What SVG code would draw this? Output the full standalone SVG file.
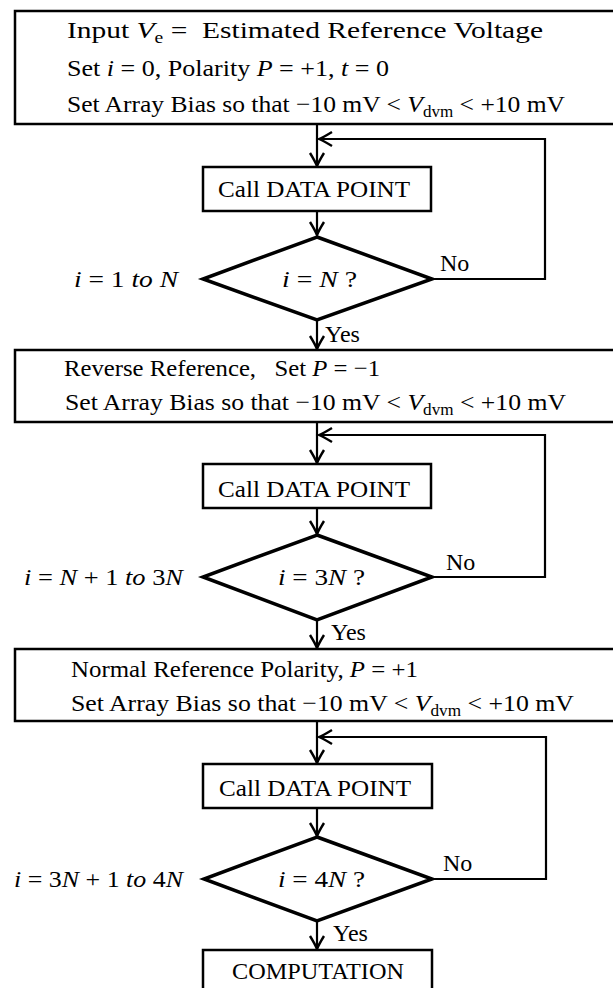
<svg xmlns="http://www.w3.org/2000/svg" width="613" height="988" viewBox="0 0 613 988">
<defs>
<style>
text{font-family:"Liberation Serif","Times New Roman",serif;font-size:24px;fill:#000}
.it{font-style:italic}
.sub{font-size:16px}
.box{fill:#fff;stroke:#000;stroke-width:2.5}
.dia{fill:#fff;stroke:#000;stroke-width:3.5;stroke-linejoin:miter}
.ln{fill:none;stroke:#000;stroke-width:2.2}
</style>
<marker id="ah" markerUnits="userSpaceOnUse" markerWidth="16" markerHeight="16" viewBox="-13 -8 15 16" refX="0" refY="0" orient="auto" overflow="visible">
<path d="M -13 -7 Q -4 -1.5 0 0 Q -4 1.5 -13 7" fill="none" stroke="#000" stroke-width="2.4"/>
</marker>
</defs>
<rect width="613" height="988" fill="#fff"/>

<g id="connectors">
<line class="ln" x1="317" y1="124" x2="317" y2="166" marker-end="url(#ah)"/>
<polyline class="ln" points="432,279 545,279 545,139 319,139" marker-end="url(#ah)"/>
<line class="ln" x1="317" y1="211" x2="317" y2="235" marker-end="url(#ah)"/>
<line class="ln" x1="317" y1="321" x2="317" y2="349" marker-end="url(#ah)"/>
<line class="ln" x1="317" y1="422" x2="317" y2="463" marker-end="url(#ah)"/>
<polyline class="ln" points="432,577 545,577 545,435 319,435" marker-end="url(#ah)"/>
<line class="ln" x1="317" y1="508" x2="317" y2="534" marker-end="url(#ah)"/>
<line class="ln" x1="317" y1="620" x2="317" y2="648" marker-end="url(#ah)"/>
<line class="ln" x1="317" y1="721" x2="317" y2="763" marker-end="url(#ah)"/>
<polyline class="ln" points="432,879 546,879 546,737 319,737" marker-end="url(#ah)"/>
<line class="ln" x1="317" y1="808" x2="317" y2="836" marker-end="url(#ah)"/>
<line class="ln" x1="317" y1="921" x2="317" y2="949" marker-end="url(#ah)"/>
</g>

<g id="init">
<rect class="box" x="15" y="11" width="620" height="113"/>
<text x="67" y="38" textLength="476" lengthAdjust="spacingAndGlyphs">Input <tspan class="it">V</tspan><tspan class="sub" dy="5">e</tspan><tspan dy="-5"> =&#160; Estimated Reference Voltage</tspan></text>
<text x="67" y="76" textLength="322" lengthAdjust="spacingAndGlyphs">Set <tspan class="it">i</tspan> = 0, Polarity <tspan class="it">P</tspan> = +1, <tspan class="it">t</tspan> = 0</text>
<text x="67" y="112" textLength="498" lengthAdjust="spacingAndGlyphs">Set Array Bias so that −10 mV &lt; <tspan class="it">V</tspan><tspan class="sub" dy="5">dvm</tspan><tspan dy="-5"> &lt; +10 mV</tspan></text>
</g>

<g id="call1">
<rect class="box" x="203" y="167" width="228" height="44"/>
<text x="218" y="197" textLength="192" lengthAdjust="spacingAndGlyphs">Call DATA POINT</text>
</g>

<g id="check1">
<polygon class="dia" points="317,237 432,279 317,320 203,279"/>
<text x="282" y="287" textLength="75" lengthAdjust="spacingAndGlyphs"><tspan class="it">i</tspan> = <tspan class="it">N</tspan> ?</text>
<text x="74" y="287" textLength="104" lengthAdjust="spacingAndGlyphs"><tspan class="it">i</tspan> = 1 <tspan class="it">to N</tspan></text>
<text x="440" y="271">No</text>
<text x="325" y="342">Yes</text>
</g>

<g id="reverse">
<rect class="box" x="15" y="350" width="620" height="72"/>
<text x="64" y="376" textLength="316" lengthAdjust="spacingAndGlyphs">Reverse Reference,&#160;&#160; Set <tspan class="it">P</tspan> = −1</text>
<text x="65" y="410" textLength="501" lengthAdjust="spacingAndGlyphs">Set Array Bias so that −10 mV &lt; <tspan class="it">V</tspan><tspan class="sub" dy="5">dvm</tspan><tspan dy="-5"> &lt; +10 mV</tspan></text>
</g>

<g id="call2">
<rect class="box" x="203" y="464" width="228" height="44"/>
<text x="218" y="497" textLength="192" lengthAdjust="spacingAndGlyphs">Call DATA POINT</text>
</g>

<g id="check2">
<polygon class="dia" points="317,535 432,577 317,620 203,577"/>
<text x="278" y="585" textLength="87" lengthAdjust="spacingAndGlyphs"><tspan class="it">i</tspan> = 3<tspan class="it">N</tspan> ?</text>
<text x="24" y="585" textLength="159" lengthAdjust="spacingAndGlyphs"><tspan class="it">i</tspan> = <tspan class="it">N</tspan> + 1 <tspan class="it">to</tspan> 3<tspan class="it">N</tspan></text>
<text x="446" y="570">No</text>
<text x="331" y="640">Yes</text>
</g>

<g id="normal">
<rect class="box" x="15" y="649" width="620" height="72"/>
<text x="71" y="677" textLength="347" lengthAdjust="spacingAndGlyphs">Normal Reference Polarity, <tspan class="it">P</tspan> = +1</text>
<text x="71" y="711" textLength="503" lengthAdjust="spacingAndGlyphs">Set Array Bias so that −10 mV &lt; <tspan class="it">V</tspan><tspan class="sub" dy="5">dvm</tspan><tspan dy="-5"> &lt; +10 mV</tspan></text>
</g>

<g id="call3">
<rect class="box" x="203" y="764" width="229" height="44"/>
<text x="219" y="796" textLength="192" lengthAdjust="spacingAndGlyphs">Call DATA POINT</text>
</g>

<g id="check3">
<polygon class="dia" points="317,837 432,879 317,921 204,879"/>
<text x="278" y="887" textLength="87" lengthAdjust="spacingAndGlyphs"><tspan class="it">i</tspan> = 4<tspan class="it">N</tspan> ?</text>
<text x="14" y="887" textLength="169" lengthAdjust="spacingAndGlyphs"><tspan class="it">i</tspan> = 3<tspan class="it">N</tspan> + 1 <tspan class="it">to</tspan> 4<tspan class="it">N</tspan></text>
<text x="443" y="871">No</text>
<text x="333" y="941">Yes</text>
</g>

<g id="computation">
<rect class="box" x="203" y="950" width="229" height="50"/>
<text x="232" y="979" textLength="172" lengthAdjust="spacingAndGlyphs">COMPUTATION</text>
</g>
</svg>
